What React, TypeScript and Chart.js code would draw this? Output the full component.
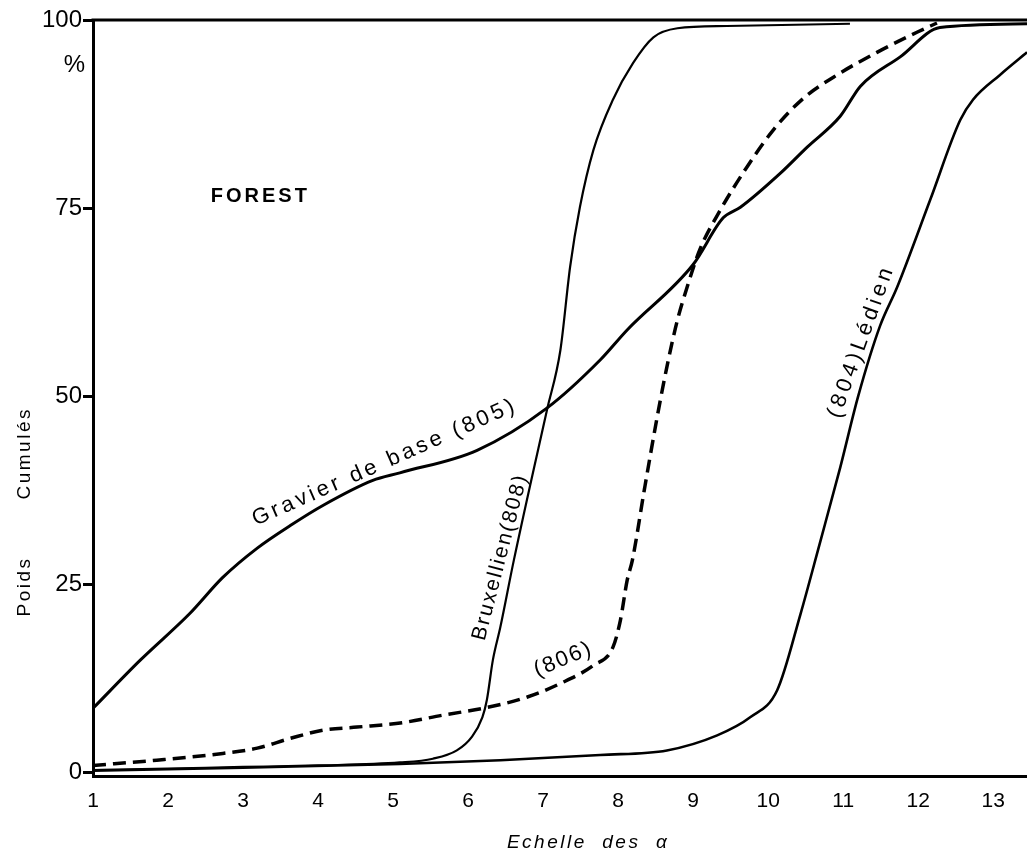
import React, { useEffect, useRef } from "react";
import { Chart, registerables } from "chart.js";

Chart.register(...registerables);

// ---- axis ticks ----
const xTickValues = [1, 2, 3, 4, 5, 6, 7, 8, 9, 10, 11, 12, 13];
const yTickValues = [0, 25, 50, 75, 100];

// ---- series: Gravier de base (805) ----
const x805 = [1, 1.63, 2.29, 2.73, 3.19, 3.63, 4.07, 4.73, 5.09, 6.12, 7.05, 7.76, 8.12, 9.0, 9.4, 9.63, 10.16, 10.52, 10.96, 11.23, 11.76, 12.29, 13.45];
const y805 = [8.5, 14.9, 21.1, 25.9, 29.8, 32.8, 35.5, 38.8, 39.8, 42.8, 48.4, 54.8, 58.8, 67.5, 73.7, 75.1, 79.6, 83.1, 87.2, 91.2, 95.1, 99.0, 99.5];

// ---- series: (806) dashed ----
const x806 = [1, 1.85, 2.73, 3.19, 3.63, 4.07, 4.52, 5.13, 5.67, 6.25, 6.79, 7.23, 7.67, 7.93, 8.03, 8.12, 8.19, 8.35, 8.52, 8.65, 8.79, 8.92, 9.09, 9.36, 9.72, 10.07, 10.47, 10.87, 11.45, 11.99, 12.25];
const y806 = [0.9, 1.6, 2.5, 3.2, 4.5, 5.6, 6.0, 6.6, 7.6, 8.6, 10.0, 11.8, 14.2, 16.6, 20.2, 25.5, 28.2, 37.6, 47.2, 53.9, 60.1, 64.5, 69.5, 74.7, 80.5, 85.4, 89.6, 92.4, 95.7, 98.4, 99.6];

// ---- series: Bruxellien (808) ----
const x808 = [1, 2, 3, 4, 5.09, 5.53, 5.85, 6.05, 6.19, 6.25, 6.33, 6.43, 6.61, 7.05, 7.23, 7.36, 7.49, 7.67, 7.93, 8.2, 8.47, 8.79, 9.45, 11.09];
const y808 = [0.3, 0.5, 0.7, 0.9, 1.3, 1.8, 2.9, 4.7, 7.3, 9.6, 14.9, 19.3, 28.2, 48.1, 56.1, 67.2, 75.1, 82.7, 89.4, 94.3, 97.7, 98.9, 99.2, 99.5];

// ---- series: Lédien (804) ----
const x804 = [1, 3, 5.09, 6.43, 7.76, 8.65, 9.32, 9.76, 10.12, 10.43, 10.69, 10.96, 11.2, 11.49, 11.72, 12.16, 12.56, 12.73, 13.09, 13.45];
const y804 = [0.2, 0.6, 1.1, 1.6, 2.3, 2.9, 4.9, 7.3, 10.9, 21.0, 30.5, 40.5, 50.0, 59.3, 64.5, 76.1, 86.7, 89.4, 92.7, 95.7];

// ---- in-plot labels (anchored in data units) ----
const noteTexts = ["FOREST", "Gravier de base (805)", "Bruxellien(808)", "(806)", "(804)Lédien"];
const noteX = [3.23, 4.89, 6.43, 7.27, 11.24];
const noteY = [76.5, 41.2, 28.6, 15.0, 57.3];
const noteAngle = [0, -23.8, -75.5, -22.5, -70.3];

const FONT = '"Liberation Sans", Arial, sans-serif';
const noteFonts = [
  `bold 20px ${FONT}`,
  `22px ${FONT}`,
  `21px ${FONT}`,
  `22px ${FONT}`,
  `22px ${FONT}`,
];
const noteSpacing = ["3px", "3.5px", "2px", "2px", "4px"];

const pts = (xs: number[], ys: number[]) => xs.map((x, i) => ({ x, y: ys[i] }));

const annotPlugin = {
  id: "annot",
  afterDraw(chart: any) {
    const { ctx, chartArea, scales } = chart;
    const xs = scales.x;
    const ys = scales.y;
    ctx.save();
    // top frame line
    ctx.strokeStyle = "#000";
    ctx.lineWidth = 3;
    ctx.beginPath();
    ctx.moveTo(chartArea.left - 1.5, chartArea.top);
    ctx.lineTo(chartArea.right, chartArea.top);
    ctx.stroke();

    ctx.fillStyle = "#000";
    ctx.textAlign = "center";
    ctx.textBaseline = "middle";
    noteTexts.forEach((t, i) => {
      const px = xs.getPixelForValue(noteX[i]);
      const py = ys.getPixelForValue(noteY[i]);
      ctx.save();
      ctx.translate(px, py);
      ctx.rotate((noteAngle[i] * Math.PI) / 180);
      ctx.font = noteFonts[i];
      (ctx as any).letterSpacing = noteSpacing[i];
      ctx.fillText(t, 0, 0);
      ctx.restore();
    });

    // "%" under the 100 tick
    ctx.save();
    ctx.font = `24px ${FONT}`;
    ctx.textAlign = "right";
    ctx.fillText("%", chartArea.left - 8, ys.getPixelForValue(94));
    ctx.restore();

    // y axis title
    const drawVert = (t: string, val: number) => {
      ctx.save();
      ctx.translate(25, ys.getPixelForValue(val));
      ctx.rotate(-Math.PI / 2);
      ctx.font = `19px ${FONT}`;
      (ctx as any).letterSpacing = "2.5px";
      ctx.fillText(t, 0, 0);
      ctx.restore();
    };
    drawVert("Poids", 24.7);
    drawVert("Cumulés", 42.4);

    // x axis title
    ctx.save();
    ctx.font = `italic 19px ${FONT}`;
    (ctx as any).letterSpacing = "2.5px";
    ctx.fillText("Echelle  des  α", xs.getPixelForValue(7.6), chartArea.bottom + 67);
    ctx.restore();

    ctx.restore();
  },
};

export default function App() {
  const ref = useRef<HTMLCanvasElement>(null);
  useEffect(() => {
    document.body.style.margin = "0";
    const canvas = ref.current!;
    const chart = new Chart(canvas, {
      type: "line",
      data: {
        datasets: [
          {
            label: "805",
            data: pts(x805, y805),
            borderColor: "#000",
            borderWidth: 3,
            cubicInterpolationMode: "monotone",
          },
          {
            label: "806",
            data: pts(x806, y806),
            borderColor: "#000",
            borderWidth: 3.5,
            borderDash: [13, 7],
            cubicInterpolationMode: "monotone",
          },
          {
            label: "808",
            data: pts(x808, y808),
            borderColor: "#000",
            borderWidth: 2.2,
            cubicInterpolationMode: "monotone",
          },
          {
            label: "804",
            data: pts(x804, y804),
            borderColor: "#000",
            borderWidth: 2.6,
            cubicInterpolationMode: "monotone",
          },
        ],
      },
      options: {
        animation: false,
        responsive: false,
        parsing: false as any,
        layout: { padding: { top: 20, right: 0, left: 0, bottom: 0 } },
        elements: { point: { radius: 0 } },
        plugins: {
          legend: { display: false },
          tooltip: { enabled: false },
        },
        scales: {
          x: {
            type: "linear",
            min: 1,
            max: 13.45,
            afterBuildTicks: (s: any) => {
              s.ticks = xTickValues.map((v) => ({ value: v }));
            },
            afterFit: (s: any) => {
              s.height = 78;
            },
            grid: { display: false, drawTicks: false },
            border: { display: true, color: "#000", width: 3 },
            ticks: {
              color: "#000",
              font: { family: FONT, size: 21 },
              padding: 13,
              autoSkip: false,
              maxRotation: 0,
              callback: (v: any) => String(v),
            },
          },
          y: {
            type: "linear",
            min: -0.5,
            max: 100,
            afterBuildTicks: (s: any) => {
              s.ticks = yTickValues.map((v) => ({ value: v }));
            },
            afterFit: (s: any) => {
              s.width = 93;
            },
            grid: {
              drawOnChartArea: false,
              drawTicks: true,
              tickLength: 10,
              color: "#000",
              lineWidth: 3,
            },
            border: { display: true, color: "#000", width: 3 },
            ticks: {
              color: "#000",
              font: { family: FONT, size: 24 },
              padding: 1,
              callback: (v: any) => String(v),
            },
          },
        },
      },
      plugins: [annotPlugin],
    });
    return () => chart.destroy();
  }, []);
  return (
    <div style={{ width: 1027, height: 854 }}>
      <canvas ref={ref} width={1027} height={854} style={{ width: 1027, height: 854, display: "block" }} />
    </div>
  );
}
